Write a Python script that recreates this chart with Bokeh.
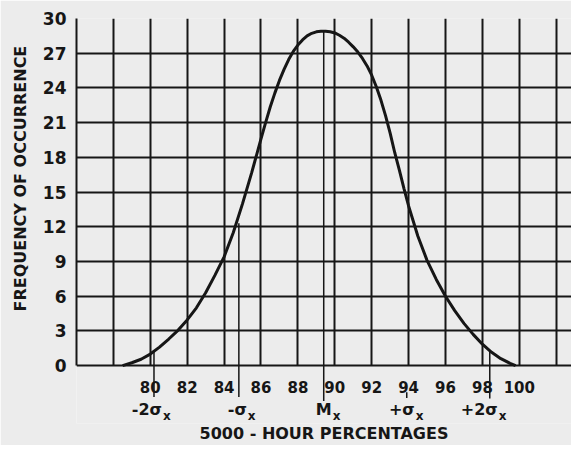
from bokeh.plotting import figure
from bokeh.models import Range1d, FixedTicker, Title
from bokeh.embed import file_html
from bokeh.resources import INLINE

# ---- data ----
curve_x = [78.5, 79.0, 79.5, 80.0, 80.5, 81.0, 81.5, 82.0, 82.5, 83.0, 83.5, 84.0,
           84.5, 85.0, 85.5, 86.0, 86.25, 86.5, 86.75, 87.0, 87.25, 87.5, 87.75,
           88.0, 88.25, 88.5, 88.75, 89.0, 89.25, 89.5, 89.75, 90.0, 90.25, 90.5,
           90.75, 91.0, 91.25, 91.5, 91.75, 92.0, 92.25, 92.5, 92.75, 93.0, 93.25,
           93.5, 93.75, 94.0, 94.5, 95.0, 95.5, 96.0, 96.5, 97.0, 97.5, 98.0,
           98.5, 99.0, 99.5, 99.8]
curve_y = [0.0, 0.25, 0.55, 1.0, 1.6, 2.3, 3.05, 3.95, 5.0, 6.3, 7.8, 9.4,
           11.5, 14.0, 16.7, 19.6, 21.0, 22.35, 23.55, 24.65, 25.6, 26.45, 27.15,
           27.7, 28.15, 28.5, 28.72, 28.85, 28.9, 28.9, 28.85, 28.75, 28.55, 28.3,
           27.95, 27.55, 27.1, 26.55, 25.9, 25.1, 24.1, 22.95, 21.6, 20.1, 18.4,
           16.9, 15.3, 13.8, 11.2, 9.1, 7.45, 6.0, 4.75, 3.65, 2.7, 1.85,
           1.15, 0.6, 0.2, 0.0]

x_ticks = [80, 82, 84, 86, 88, 90, 92, 94, 96, 98, 100]
x_tick_labels = ["80", "82", "84", "86", "88", "90", "92", "94", "96", "98", "100"]
y_ticks = [0, 3, 6, 9, 12, 15, 18, 21, 24, 27, 30]
grid_x = [76, 78, 80, 82, 84, 86, 88, 90, 92, 94, 96, 98, 100, 102, 104]

sigma_x = [80.2, 84.8, 89.4, 93.9, 98.4]
sigma_top = [1.3, 12.3, 28.9, -2.3, 1.3]
sigma_bottom = [-2.7, -2.7, -3.05, -2.8, -2.85]
sigma_labels = ["-2σ", "-σ", "M", "+σ", "+2σ"]
sigma_sub = ["x", "x", "x", "x", "x"]

INK = "#161616"
PAPER = "#ececec"
FONT = "DejaVu Sans"

TICK_LABEL_Y = -1.85
SIGMA_LABEL_Y = -3.75

p = figure(width=571, height=445, output_backend="svg", toolbar_location=None,
           x_range=Range1d(76, 102.83), y_range=Range1d(-5.0, 30),
           min_border_left=76, min_border_top=18, min_border_right=0,
           min_border_bottom=17)
p.background_fill_color = PAPER
p.border_fill_color = PAPER
p.outline_line_color = None

# grid (limited to the 0..30 field)
p.xgrid.ticker = FixedTicker(ticks=grid_x)
p.ygrid.ticker = FixedTicker(ticks=y_ticks)
p.xgrid.cross_bounds = (0, 30)
p.ygrid.cross_bounds = (76, 104)
for g in (p.xgrid, p.ygrid):
    g.grid_line_color = INK
    g.grid_line_width = 2
    g.grid_line_alpha = 1.0

# y axis
p.yaxis.ticker = FixedTicker(ticks=y_ticks)
p.yaxis.bounds = (0, 30)
p.yaxis.axis_line_color = INK
p.yaxis.axis_line_width = 2
p.yaxis.major_tick_line_color = None
p.yaxis.minor_tick_line_color = None
p.yaxis.major_label_text_font = FONT
p.yaxis.major_label_text_font_style = "bold"
p.yaxis.major_label_text_font_size = "17px"
p.yaxis.major_label_text_color = INK
p.yaxis.major_label_standoff = 4

ytitle = Title(text="FREQUENCY OF OCCURRENCE", align="left", offset=112,
               text_font=FONT, text_font_style="bold", text_font_size="16px",
               text_color=INK, standoff=17, vertical_align="middle")
p.add_layout(ytitle, "left")

# x axis: carries only the title; tick labels drawn at the axis below
p.xaxis.ticker = FixedTicker(ticks=[])
p.xaxis.axis_line_color = None
p.xaxis.major_tick_line_color = None
p.xaxis.minor_tick_line_color = None
p.xaxis.axis_label = "5000 - HOUR PERCENTAGES"
p.xaxis.axis_label_text_font = FONT
p.xaxis.axis_label_text_font_style = "bold"
p.xaxis.axis_label_text_font_size = "16px"
p.xaxis.axis_label_text_color = INK
p.xaxis.axis_label_standoff = 0

# tick labels of the x axis
p.text(x=x_ticks, y=[TICK_LABEL_Y] * len(x_ticks), text=x_tick_labels,
       text_align="center", text_baseline="middle", text_font_size="15px",
       text_font_style="bold", text_color=INK, text_font={"value": FONT})

# curve
p.line(curve_x, curve_y, line_width=3, line_color=INK)

# sigma ordinates and their labels
p.segment(x0=sigma_x, y0=sigma_bottom, x1=sigma_x, y1=sigma_top,
          line_color=INK, line_width=1.5)
p.text(x=sigma_x, y=[SIGMA_LABEL_Y] * len(sigma_x), text=sigma_labels,
       text_align="right", text_baseline="middle", x_offset=8,
       text_font_size="16px", text_font_style="bold", text_color=INK,
       text_font={"value": FONT})
p.text(x=sigma_x, y=[SIGMA_LABEL_Y] * len(sigma_x), text=sigma_sub,
       text_align="left", text_baseline="middle", x_offset=9, y_offset=7,
       text_font_size="12px", text_font_style="bold", text_color=INK,
       text_font={"value": FONT})

open("out.html", "w").write(file_html(p, INLINE))
